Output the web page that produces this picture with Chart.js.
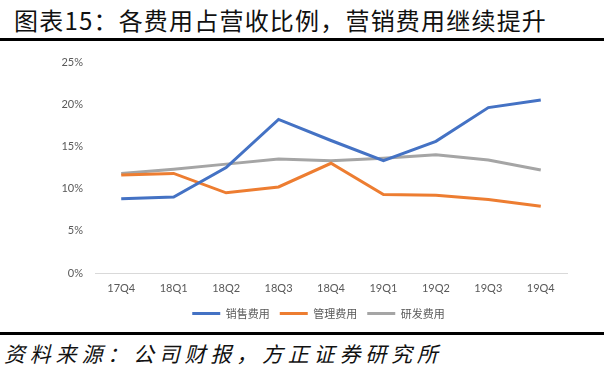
<!DOCTYPE html>
<html><head><meta charset="utf-8">
<script src="https://cdn.jsdelivr.net/npm/chart.js@4"></script>
<style>
html,body{margin:0;padding:0;background:#fff;width:604px;height:373px;overflow:hidden;position:relative;}
#title{position:absolute;left:14px;top:2px;font:24px "Noto Sans CJK SC",sans-serif;color:#111;white-space:nowrap;letter-spacing:1.2px;}
.rule{position:absolute;left:0;width:604px;height:3px;background:#000;}
#foot{position:absolute;left:4px;top:338px;font:italic 21px "Noto Sans CJK SC",sans-serif;color:#111;white-space:nowrap;letter-spacing:4.8px;}
#wrap{position:absolute;left:0;top:0;width:604px;height:373px;}
</style></head>
<body>
<div id="title">图表15：各费用占营收比例，营销费用继续提升</div>
<div class="rule" style="top:38px"></div>
<div class="rule" style="top:332px"></div>
<div id="foot">资料来源：公司财报，方正证券研究所</div>
<div id="wrap"><canvas id="c"></canvas></div>
<script>
const categories = ['17Q4','18Q1','18Q2','18Q3','18Q4','19Q1','19Q2','19Q3','19Q4'];
const seriesNames = ['销售费用','管理费用','研发费用'];
const salesExpense = [8.8, 9.0, 12.5, 18.2, 15.7, 13.3, 15.6, 19.6, 20.5];
const adminExpense = [11.6, 11.8, 9.5, 10.2, 13.0, 9.3, 9.2, 8.7, 7.9];
const rdExpense = [11.8, 12.3, 12.9, 13.5, 13.3, 13.6, 14.0, 13.4, 12.2];
const yTicks = [0, 5, 10, 15, 20, 25];

const colors = ['#4472C4', '#ED7D31', '#A5A5A5'];
const tickFont = {family: 'Lato, "Liberation Sans", sans-serif', size: 11};
const shiftLegend = {
  id: 'shiftLegend',
  afterLayout(chart) {
    const lg = chart.legend;
    if (lg) { lg.left += 35; lg.right += 35; }
  }
};
new Chart(document.getElementById('c'), {
  type: 'line',
  data: {
    labels: categories,
    datasets: [salesExpense, adminExpense, rdExpense].map((d, i) => ({
      label: seriesNames[i], data: d, borderColor: colors[i], backgroundColor: colors[i],
      borderWidth: 3, pointRadius: 0, tension: 0
    }))
  },
  plugins: [shiftLegend],
  options: {
    responsive: true, maintainAspectRatio: false, animation: false,
    layout: {padding: {left: 0, right: 37, top: 62, bottom: 44}},
    plugins: {
      legend: {
        position: 'bottom',
        labels: {
          boxWidth: 28, boxHeight: 3, padding: 10, color: '#595959',
          font: {family: '"Noto Sans CJK SC", sans-serif', size: 11},
          generateLabels: (chart) => Chart.defaults.plugins.legend.labels.generateLabels(chart).map(l => Object.assign(l, {lineWidth: 0}))
        }
      },
      tooltip: {enabled: false}
    },
    scales: {
      x: {
        offset: true,
        afterFit: s => { s.height = 25; },
        grid: {display: false, drawTicks: false},
        border: {display: true, color: '#D9D9D9', width: 1},
        ticks: {color: '#595959', font: tickFont, padding: 9, maxRotation: 0}
      },
      y: {
        min: yTicks[0], max: yTicks[yTicks.length - 1],
        afterFit: s => { s.width = 95; },
        afterBuildTicks: s => { s.ticks = yTicks.map(v => ({value: v})); },
        grid: {display: false, drawTicks: false},
        border: {display: false},
        ticks: {color: '#595959', font: tickFont, padding: 12, callback: v => v + '%'}
      }
    }
  }
});
</script>
</body></html>
